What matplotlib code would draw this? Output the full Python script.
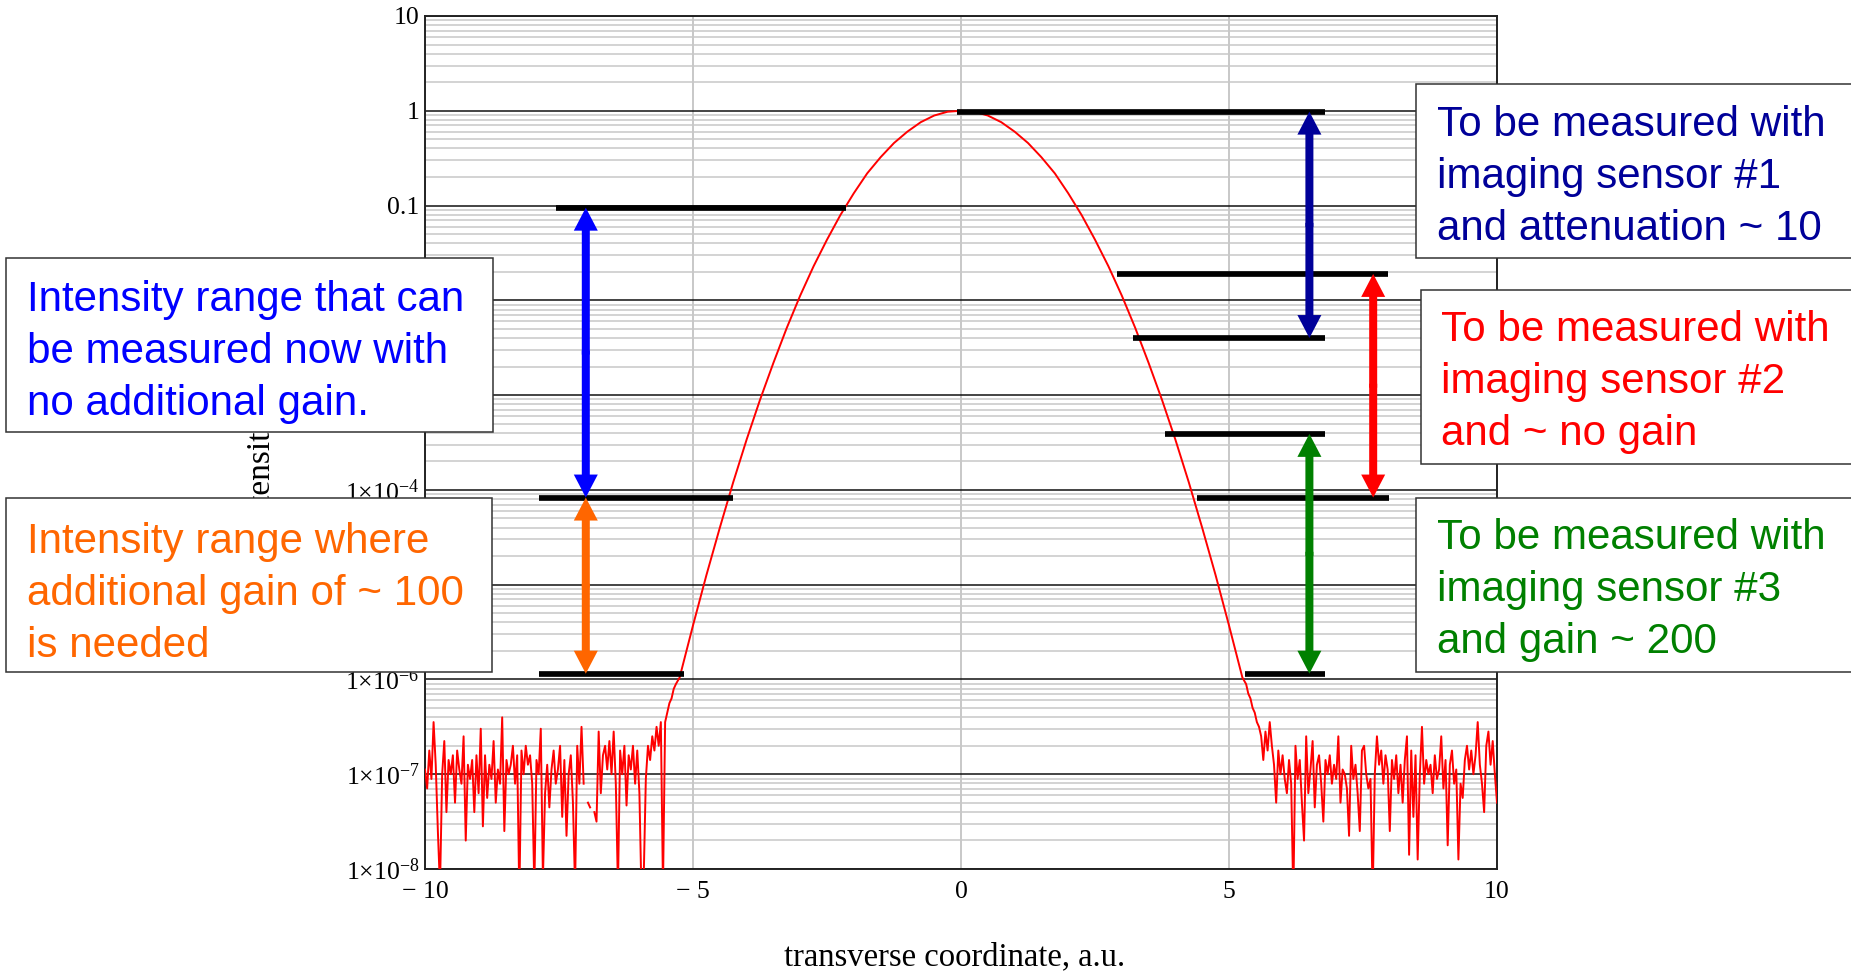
import numpy as np
import matplotlib
matplotlib.use("Agg")
import matplotlib.pyplot as plt
from matplotlib.patches import Rectangle, FancyArrow
from matplotlib.transforms import IdentityTransform
from matplotlib.ticker import FixedLocator

plt.rcParams['mathtext.fontset'] = 'custom'
plt.rcParams['mathtext.rm'] = 'Liberation Serif'
plt.rcParams['mathtext.it'] = 'Liberation Serif:italic'
plt.rcParams['mathtext.bf'] = 'Liberation Serif:bold'

nan = np.nan
# ---------------- data (log10 of intensity) ----------------
core_log10 = [-5.98, -5.43, -4.90, -4.40, -3.92, -3.47, -3.05, -2.66, -2.29, -1.95,
              -1.64, -1.36, -1.10, -0.87, -0.66, -0.49, -0.34, -0.22, -0.12, -0.05,
              -0.01, 0.00, -0.01, -0.05, -0.12, -0.22, -0.34, -0.49, -0.66, -0.87,
              -1.10, -1.36, -1.64, -1.95, -2.29, -2.66, -3.05, -3.47, -3.92, -4.40,
              -4.90, -5.43, -5.98]
core_x = np.linspace(-5.25, 5.25, len(core_log10))

noise_left_log10 = [
    -6.95, -7.15, -6.75, -7.05, -6.45, -6.9, -7.6, -8.2, -7.0, -6.65,
    -7.4, -6.85, -7.0, -6.8, -7.3, -6.75, -6.95, -7.1, -6.6, -7.7,
    -6.9, -7.05, -6.85, -7.4, -6.8, -7.2, -6.52, -7.55, -6.8, -7.25,
    -6.9, -7.05, -6.65, -7.3, -6.95, -7.1, -6.4, -7.6, -6.85, -7.0,
    -6.9, -6.7, -7.1, -6.8, -8.3, -6.75, -7.0, -6.7, -6.9, -6.8,
    -7.1, -8.2, -6.85, -7.0, -6.52, -8.1, -7.2, -6.9, -7.35, -6.95,
    -6.75, -7.1, -6.95, -6.7, -7.45, -6.85, -7.65, -7.0, -6.8, -7.3,
    -8.2, -6.7, -7.1, -6.5, -7.1, nan, -7.3, -7.35, nan, -7.4,
    -7.5, -6.55, -7.2, -6.8, -6.7, -6.95, -6.65, -7.0, -6.55, -7.1,
    -8.2, -6.75, -7.0, -6.7, -7.33, -6.8, -6.95, -6.7, -7.1, -6.75,
    -7.2, -8.3, -8.1, -7.05, -6.7, -6.85, -6.6, -6.75, -6.5, -6.7,
    -6.45, -8.2, -6.45, -6.35, -6.25, -6.2, -6.1, -6.05]
noise_left_x = -10.0 + 0.04 * np.arange(len(noise_left_log10))

noise_right_log10 = [
    -6.05, -6.15, -6.2, -6.3, -6.35, -6.45, -6.5, -6.6, -6.85, -6.55,
    -6.75, -6.45, -6.7, -6.9, -7.3, -6.75, -7.0, -6.8, -7.05, -7.2,
    -6.85, -7.1, -8.3, -6.7, -7.05, -6.85, -7.3, -7.7, -6.6, -7.2,
    -6.95, -6.65, -7.35, -6.9, -6.8, -7.1, -7.5, -6.85, -7.0, -6.8,
    -7.1, -6.9, -7.05, -6.6, -7.3, -6.95, -7.0, -7.15, -7.65, -6.7,
    -7.05, -6.9, -7.2, -7.6, -6.75, -6.7, -7.0, -7.15, -7.05, -8.3,
    -7.0, -6.6, -6.9, -6.75, -7.1, -6.8, -6.95, -7.6, -6.85, -7.05,
    -6.8, -7.2, -6.9, -7.3, -6.85, -6.6, -7.85, -6.75, -7.45, -6.8,
    -7.9, -7.0, -6.5, -7.1, -6.85, -7.0, -6.9, -7.2, -6.8, -7.05,
    -6.95, -6.6, -7.15, -6.85, -7.75, -6.9, -6.75, -7.1, -6.95, -7.9,
    -7.1, -7.25, -6.85, -6.7, -6.95, -6.75, -7.0, -6.8, -6.45, -6.9,
    -7.1, -7.4, -6.7, -6.55, -6.9, -6.65, -7.0, -7.3]
noise_right_x = 10.0 - 0.04 * np.arange(len(noise_right_log10))[::-1]

# horizontal level markers
bar_y = [0.095, 8.3e-5, 1.15e-6, 0.98, 0.019, 0.0040, 3.9e-4, 8.3e-5, 1.15e-6]
bar_x0 = [-7.55, -7.87, -7.87, -0.07, 2.91, 3.21, 3.81, 4.40, 5.30]
bar_x1 = [-2.15, -4.26, -5.17, 6.80, 7.97, 6.80, 6.80, 7.99, 6.80]

# double arrows
arrow_x = [-7.0, -7.0, 6.5, 7.69, 6.5]
arrow_top = [0.095, 8.3e-5, 0.98, 0.019, 3.9e-4]
arrow_bottom = [8.3e-5, 1.15e-6, 0.0040, 8.3e-5, 1.15e-6]
arrow_colors = ['#0000ff', '#ff6600', '#000099', '#ff0000', '#008000']

xtick_values = [-10, -5, 0, 5, 10]
xtick_labels = ['\u2212 10', '\u2212 5', '0', '5', '10']
ytick_values = [1e-8, 1e-7, 1e-6, 1e-5, 1e-4, 1e-3, 1e-2, 1e-1, 1, 10]
ytick_labels = [r'$\mathregular{1{\times}10^{-8}}$', r'$\mathregular{1{\times}10^{-7}}$',
                r'$\mathregular{1{\times}10^{-6}}$', r'$\mathregular{1{\times}10^{-5}}$',
                r'$\mathregular{1{\times}10^{-4}}$', r'$\mathregular{1{\times}10^{-3}}$',
                '0.01', '0.1', '1', '10']

box_texts = ["Intensity range that can\nbe measured now with\nno additional gain.",
             "Intensity range where\nadditional gain of ~ 100\nis needed",
             "To be measured with\nimaging sensor #1\nand attenuation ~ 10",
             "To be measured with\nimaging sensor #2\nand ~ no gain",
             "To be measured with\nimaging sensor #3\nand gain ~ 200"]
box_colors = ['#0000ff', '#ff6600', '#000099', '#ff0000', '#008000']

# ---------------- layout (pixels) ----------------
W, H, DPI = 1851, 975, 100
boxes_px = [(6, 258, 493, 432), (6, 498, 492, 672), (1416, 84, 1870, 258),
            (1421, 290, 1870, 464), (1416, 498, 1870, 672)]
text_px = [(27, 280), (27, 522), (1437, 105), (1441, 310), (1437, 518)]

fig = plt.figure(figsize=(W / DPI, H / DPI), dpi=DPI)
L, R, T, B = 425, 1497, 16, 869
ax = fig.add_axes([L / W, 1 - B / H, (R - L) / W, (B - T) / H])
ax.set_yscale('log')
ax.set_xlim(-10, 10)
ax.set_ylim(1e-8, 10)

minor = [m * 10.0 ** e for e in range(-8, 1) for m in range(2, 10)]
ax.yaxis.set_major_locator(FixedLocator(ytick_values))
ax.yaxis.set_minor_locator(FixedLocator(minor))
ax.set_yticklabels(ytick_labels)
ax.set_xticks(xtick_values)
ax.set_xticklabels(xtick_labels)
ax.set_axisbelow(True)
ax.grid(which='minor', axis='y', color='#c8c8c8', lw=1.1)
ax.grid(which='major', axis='y', color='#111111', lw=1.1)
ax.grid(which='major', axis='x', color='#c8c8c8', lw=1.4)
ax.tick_params(which='both', length=0)
ax.tick_params(axis='y', pad=4)
ax.tick_params(axis='x', pad=9)
for lab in ax.get_xticklabels() + ax.get_yticklabels():
    lab.set_fontfamily('Liberation Serif')
    lab.set_fontsize(18.5)
for s in ax.spines.values():
    s.set_color('#222222')
    s.set_linewidth(1.4)

x_all = np.concatenate([noise_left_x, core_x, noise_right_x])
y_all = 10.0 ** np.concatenate([noise_left_log10, core_log10, noise_right_log10])
ax.plot(x_all, y_all, color='#ff0000', lw=1.4, zorder=3)

ax.hlines(bar_y, bar_x0, bar_x1, color='black', lw=4.1, zorder=4, capstyle='butt')

for xa, yt, yb, c in zip(arrow_x, arrow_top, arrow_bottom, arrow_colors):
    (px, pt), = ax.transData.transform([(xa, yt)])
    (_, pb), = ax.transData.transform([(xa, yb)])
    mid = 0.5 * (pt + pb)
    for y0, y1 in ((mid - 2, pt), (mid + 2, pb)):
        arr = FancyArrow(px, y0, 0, y1 - y0, width=8, head_width=24, head_length=23,
                         length_includes_head=True, transform=IdentityTransform(),
                         color=c, lw=0, zorder=5, clip_on=False)
        ax.add_artist(arr)

# axis labels
fig.text(955 / W, 1 - 965 / H, 'transverse coordinate, a.u.', ha='center', va='baseline',
         family='Liberation Serif', fontsize=23.5)
fig.text(262 / W, 1 - 441 / H, 'intensity, a.u.', ha='center', va='center', rotation=90,
         family='Liberation Serif', fontsize=24)

# annotation boxes
for (x0, y0, x1, y1), txt, (tx, ty), c in zip(boxes_px, box_texts, text_px, box_colors):
    rect = Rectangle((x0 / W, 1 - y1 / H), (x1 - x0) / W, (y1 - y0) / H,
                     transform=fig.transFigure, facecolor='white', edgecolor='#333333',
                     lw=1.1, zorder=10)
    fig.add_artist(rect)
    fig.text(tx / W, 1 - ty / H, txt, ha='left', va='top', color=c,
             family='Liberation Sans', fontsize=30.3, linespacing=1.38, zorder=11)

fig.savefig('out.png', dpi=DPI)
